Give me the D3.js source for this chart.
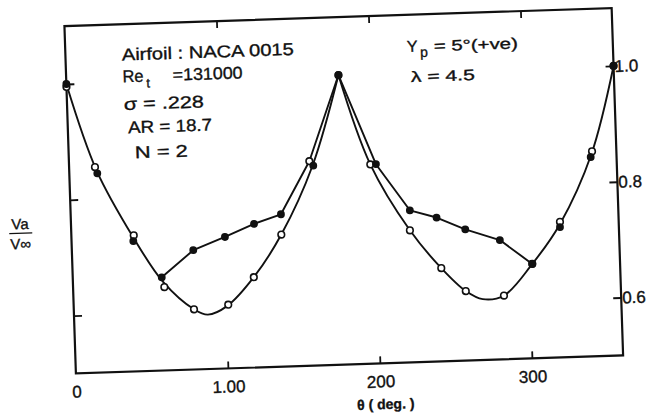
<!DOCTYPE html>
<html>
<head>
<meta charset="utf-8">
<script src="https://cdn.jsdelivr.net/npm/d3@7"></script>
<style>
  body { margin: 0; background: #fff; }
  svg { display: block; }
  text { font-family: "Liberation Sans", Arial, sans-serif; fill: #111; stroke: #111; stroke-width: 0.35px; }
</style>
</head>
<body>
<svg id="chart" width="649" height="418"></svg>
<script>
// Axis ticks
const thetaTicks = [0, 100, 200, 300];
const thetaTickLabels = ["0", "1.00", "200", "300"];
const vTicks = [1.0, 0.8, 0.6];
const vTickLabels = ["1.0", "0.8", "0.6"];

// Measured points: open circles
const openTheta = [0, 17, 41, 60, 79, 101.6, 119, 138, 158, 179, 198, 222.6, 242.4, 258, 283, 302.3, 321.4, 344, 360];
const openV     = [0.995, 0.855, 0.735, 0.644, 0.604, 0.610, 0.656, 0.728, 0.853, 1.0, 0.844, 0.728, 0.661, 0.620, 0.610, 0.663, 0.734, 0.854, 1.0];

// Measured points: filled circles
const filledTheta = [0, 18.4, 40.6, 58.5, 79.8, 100.9, 120.3, 138.2, 160.5, 179, 201.7, 223, 240.4, 259, 281.5, 302.3, 321.3, 343, 360];
const filledV     = [1.0, 0.844, 0.725, 0.661, 0.706, 0.727, 0.748, 0.763, 0.845, 1.0, 0.844, 0.7625, 0.7485, 0.7265, 0.706, 0.663, 0.725, 0.844, 1.0];

// Faired curves (lower loops)
const lowerLeftTheta  = [0, 18, 41, 59.3, 79, 88, 101, 119, 138, 160, 179];
const lowerLeftV      = [1.0, 0.849, 0.73, 0.653, 0.604, 0.594, 0.608, 0.656, 0.728, 0.845, 1.0];
const lowerRightTheta = [179, 198, 222.6, 242.4, 258, 269, 283, 302.3, 321.3, 343.5, 360];
const lowerRightV     = [1.0, 0.844, 0.728, 0.661, 0.620, 0.605, 0.610, 0.663, 0.73, 0.849, 1.0];

// Upper branches through the filled points
const upperLeftTheta  = [58.5, 79.8, 100.9, 120.3, 138.2, 158, 179];
const upperLeftV      = [0.661, 0.706, 0.727, 0.748, 0.763, 0.853, 1.0];
const upperRightTheta = [179, 201.7, 223, 240.4, 259, 281.5, 302.3];
const upperRightV     = [1.0, 0.844, 0.7625, 0.7485, 0.7265, 0.706, 0.663];

const svg = d3.select("#chart");
const g = svg.append("g").attr("transform", "rotate(-1.89,344,190)");

const x = d3.scaleLinear().domain([0, 360]).range([70, 617.5]);
const y = d3.scaleLinear().domain([0.5, 1.1]).range([364.5, 17]);

const zip = (a, b) => a.map((t, i) => [t, b[i]]);

// frame
g.append("rect")
  .attr("x", x(0)).attr("y", y(1.1))
  .attr("width", x(360) - x(0)).attr("height", y(0.5) - y(1.1))
  .attr("fill", "none").attr("stroke", "#111").attr("stroke-width", 2.2);

// axes with inward ticks
const styleAxis = sel => {
  sel.select(".domain").remove();
  sel.selectAll(".tick line").attr("stroke", "#111").attr("stroke-width", 1.8);
  sel.selectAll(".tick text").style("font-size", "17px").attr("fill", "#111");
};

g.append("g")
  .attr("transform", `translate(0,${y(0.5)})`)
  .call(d3.axisBottom(x).tickValues(thetaTicks)
    .tickFormat((d, i) => thetaTickLabels[i])
    .tickSizeInner(-7).tickSizeOuter(0).tickPadding(12))
  .call(styleAxis)
  .call(sel => sel.selectAll(".tick").filter(d => d === 0).select("line").remove());

g.append("g")
  .attr("transform", `translate(0,${y(1.1)})`)
  .call(d3.axisTop(x).tickValues(thetaTicks.slice(1)).tickFormat("")
    .tickSizeInner(-7).tickSizeOuter(0))
  .call(styleAxis);

g.append("g")
  .attr("transform", `translate(${x(0)},0)`)
  .call(d3.axisLeft(y).tickValues(vTicks).tickFormat("")
    .tickSizeInner(-8).tickSizeOuter(0))
  .call(styleAxis);

g.append("g")
  .attr("transform", `translate(${x(360)},0)`)
  .call(d3.axisRight(y).tickValues(vTicks)
    .tickFormat((d, i) => vTickLabels[i])
    .tickSizeInner(-8).tickSizeOuter(0).tickPadding(1))
  .call(styleAxis);

// curves
const smooth = d3.line().x(d => x(d[0])).y(d => y(d[1])).curve(d3.curveCatmullRom.alpha(0.5));
const straight = d3.line().x(d => x(d[0])).y(d => y(d[1]));

const curves = [
  [smooth, zip(lowerLeftTheta, lowerLeftV)],
  [smooth, zip(lowerRightTheta, lowerRightV)],
  [straight, zip(upperLeftTheta, upperLeftV)],
  [straight, zip(upperRightTheta, upperRightV)]
];
curves.forEach(([gen, pts]) => {
  g.append("path").attr("d", gen(pts))
    .attr("fill", "none").attr("stroke", "#111").attr("stroke-width", 1.9)
    .attr("stroke-linejoin", "round");
});

// markers
g.append("g").selectAll("circle")
  .data(zip(openTheta, openV)).join("circle")
  .attr("cx", d => x(d[0])).attr("cy", d => y(d[1])).attr("r", 3.3)
  .attr("fill", "#fff").attr("stroke", "#111").attr("stroke-width", 1.6);

g.append("g").selectAll("circle")
  .data(zip(filledTheta, filledV)).join("circle")
  .attr("cx", d => x(d[0])).attr("cy", d => y(d[1])).attr("r", 3.9)
  .attr("fill", "#111");

// annotation text
const label = (txt, px, py, size, len, weight) => {
  const t = g.append("text").attr("x", px).attr("y", py)
    .style("font-size", size + "px").text(txt);
  if (len) t.attr("textLength", len).attr("lengthAdjust", "spacingAndGlyphs");
  if (weight) t.style("font-weight", weight);
  return t;
};

label("Airfoil : NACA 0015", 126.4, 53.3, 17, 172);
label("Re", 126.4, 75.1, 17, 21);
label("t", 150, 81, 13);
label("=131000", 176.5, 75.1, 17, 70);
label("σ = .228", 126.8, 102.8, 17, 80);
label("AR = 18.7", 130.3, 126.2, 17, 84);
label("N = 2", 136.2, 151.4, 17, 53);

label("Y", 411.5, 54.2, 16);
label("p", 424.5, 59.5, 14);
label("= 5°(+ve)", 438.5, 54.2, 15, 84);
label("λ = 4.5", 414.5, 84.3, 15, 64);

// axis titles
label("θ ( deg. )", 378.7, 410.3, 14, null, "bold").attr("text-anchor", "middle");

label("Va", 19, 218.5, 15).attr("text-anchor", "middle");
g.append("line").attr("x1", 8).attr("x2", 31).attr("y1", 222.5).attr("y2", 222.5)
  .attr("stroke", "#111").attr("stroke-width", 1.3);
label("V∞", 19, 238.5, 15).attr("text-anchor", "middle");
</script>
</body>
</html>
